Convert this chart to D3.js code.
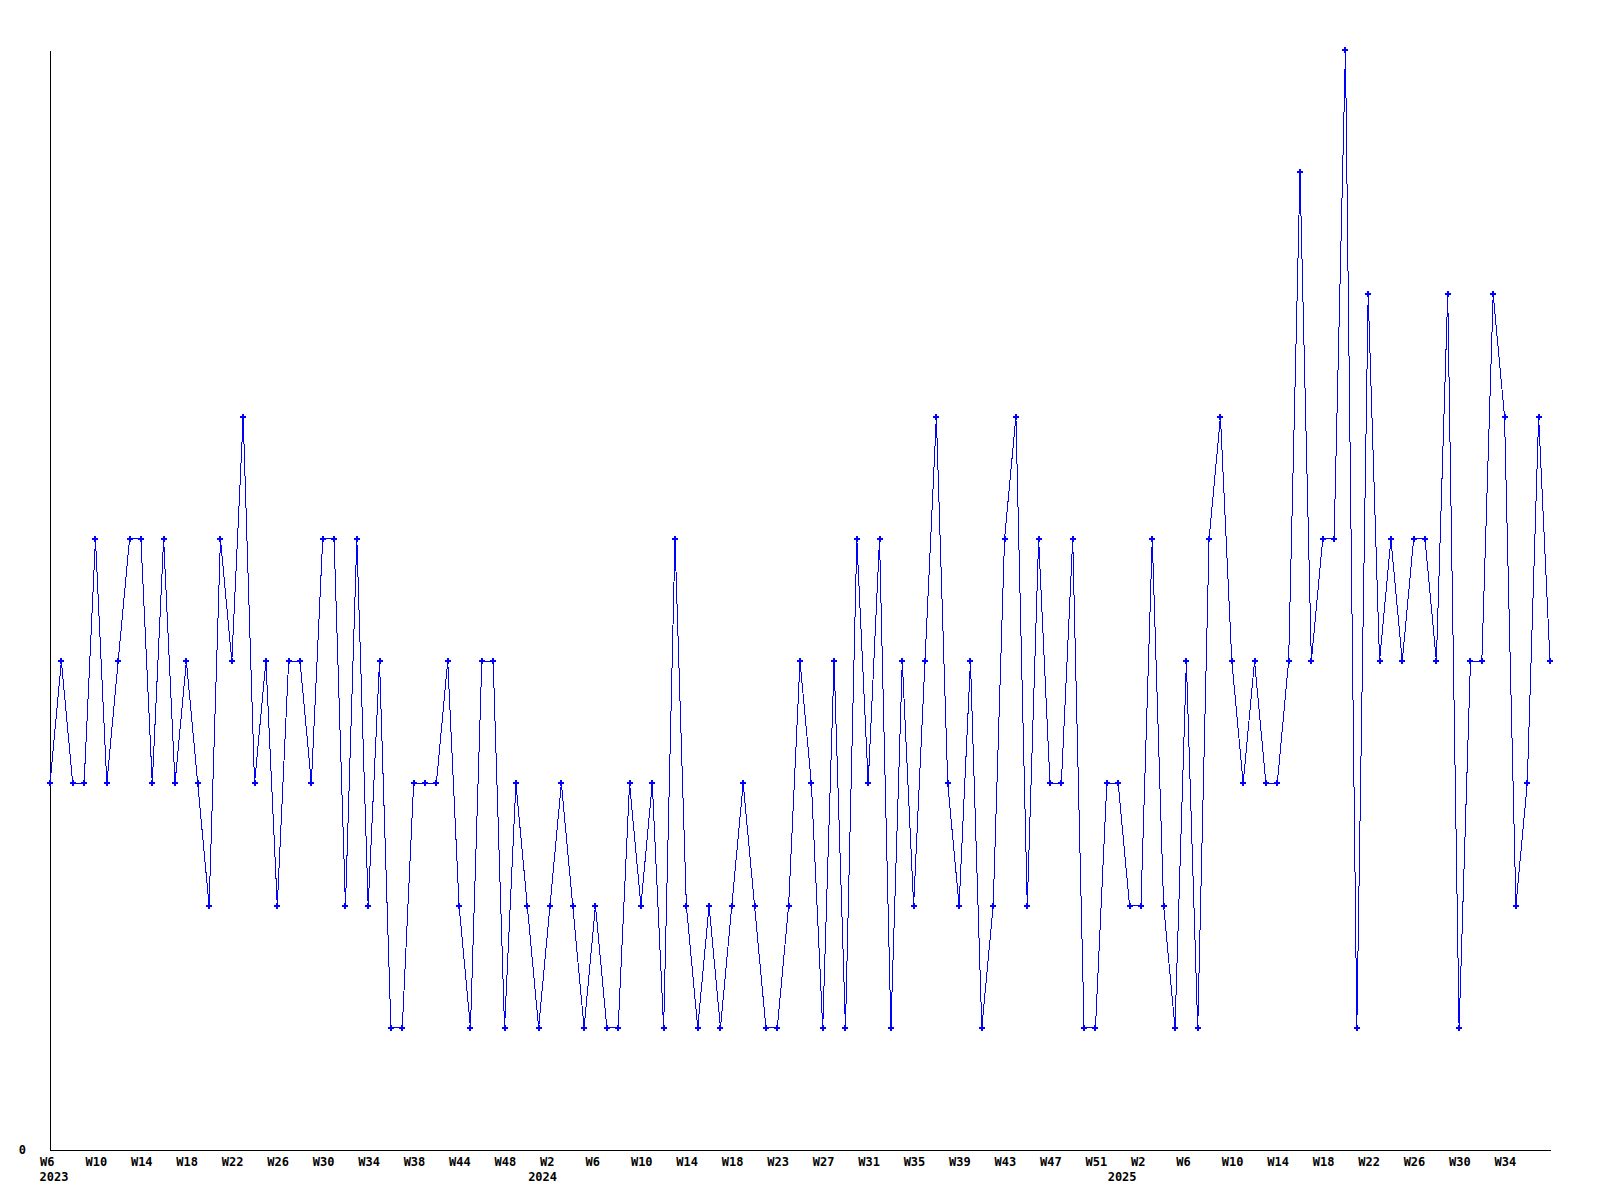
<!DOCTYPE html>
<html>
<head>
<meta charset="utf-8">
<script src="https://cdn.jsdelivr.net/npm/d3@7"></script>
<style>
  body { margin: 0; background: #fff; }
  .lbl { font-family: "DejaVu Sans Mono", monospace; font-weight: bold; font-size: 12px; fill: #000; }
</style>
</head>
<body>
<div id="chart"></div>
<script>
// week numbers per year, in the order of the data points
var weeks2023 = [6, 7, 8, 9, 10, 11, 12, 13, 14, 15, 16, 17, 18, 19, 20, 21, 22, 23, 24, 25,
  26, 27, 28, 29, 30, 31, 32, 33, 34, 35, 36, 37, 38, 40, 41, 43, 44, 45, 46, 47, 48, 50, 52];
var weeks2024 = [1, 2, 3, 4, 5, 6, 7, 8, 9, 10, 11, 12, 13, 14, 15, 16, 17, 18, 19, 20,
  22, 23, 24, 25, 26, 27, 28, 29, 30, 31, 32, 33, 34, 35, 36, 37, 38, 39, 40, 41,
  42, 43, 44, 45, 46, 47, 48, 49, 50, 51, 52];
var weeks2025 = [0, 1, 2, 3, 4, 5, 6, 7, 8, 9, 10, 11, 12, 13, 14, 15, 16, 17, 18, 19,
  20, 21, 22, 23, 24, 25, 26, 27, 28, 29, 30, 31, 32, 33, 34, 35, 36, 37, 38];

var values = [3, 4, 3, 3, 5, 3, 4, 5, 5, 3, 5, 3, 4, 3, 2, 5, 4, 6, 3, 4,
  2, 4, 4, 3, 5, 5, 2, 5, 2, 4, 1, 1, 3, 3, 3, 4, 2, 1, 4, 4,
  1, 3, 2, 1, 2, 3, 2, 1, 2, 1, 1, 3, 2, 3, 1, 5, 2, 1, 2, 1,
  2, 3, 2, 1, 1, 2, 4, 3, 1, 4, 1, 5, 3, 5, 1, 4, 2, 4, 6, 3,
  2, 4, 1, 2, 5, 6, 2, 5, 3, 3, 5, 1, 1, 3, 3, 2, 2, 5, 2, 1,
  4, 1, 5, 6, 4, 3, 4, 3, 3, 4, 8, 4, 5, 5, 9, 1, 7, 4, 5, 4,
  5, 5, 4, 7, 1, 4, 4, 7, 6, 2, 3, 6, 4];

var yTicks = [0];

var weeks = [];
weeks2023.forEach(function(w) { weeks.push({year: 2023, week: w}); });
weeks2024.forEach(function(w) { weeks.push({year: 2024, week: w}); });
weeks2025.forEach(function(w) { weeks.push({year: 2025, week: w}); });

var width = 1600, height = 1200;

var svg = d3.select("#chart")
  .append("svg")
  .attr("width", width)
  .attr("height", height);

var x = d3.scaleLinear().domain([0, weeks.length - 1]).range([50, 1550]);
var y = d3.scaleLinear().domain([0, 9]).range([1150, 50]);

// x axis, a label every 4th point (none too close to the right end)
var xAxis = svg.append("g")
  .attr("transform", "translate(0,1150)")
  .call(d3.axisBottom(x)
    .tickValues(d3.range(0, weeks.length - 4, 4))
    .tickSize(0)
    .tickSizeOuter(0)
    .tickPadding(0)
    .tickFormat(function(i) { return "W" + weeks[i].week; }));
xAxis.select(".domain").attr("stroke", "#000").attr("shape-rendering", "crispEdges");
xAxis.selectAll("text")
  .attr("class", "lbl")
  .attr("text-anchor", "start")
  .attr("x", -10.5)
  .attr("y", 16)
  .attr("dy", null);

// year under the first point of each year
var firstOfYear = weeks.map(function(d, i) { return i; })
  .filter(function(i) { return i === 0 || weeks[i].year !== weeks[i - 1].year; });
svg.selectAll(".year")
  .data(firstOfYear)
  .enter()
  .append("text")
    .attr("class", "lbl year")
    .attr("x", function(i) { return x(i) - 10.5; })
    .attr("y", 1181)
    .text(function(i) { return weeks[i].year; });

// y axis
var yAxis = svg.append("g")
  .attr("transform", "translate(50,0)")
  .call(d3.axisLeft(y)
    .tickValues(yTicks)
    .tickSize(0)
    .tickSizeOuter(0)
    .tickPadding(24));
yAxis.select(".domain").attr("stroke", "#000").attr("shape-rendering", "crispEdges");
yAxis.selectAll("text")
  .attr("class", "lbl")
  .attr("dy", null)
  .attr("y", 3);

var line = d3.line()
  .x(function(d, i) { return x(i); })
  .y(function(d) { return y(d); });

svg.append("path")
  .datum(values)
  .attr("d", line)
  .attr("fill", "none")
  .attr("stroke", "#0000ff")
  .attr("stroke-width", 1)
  .attr("shape-rendering", "crispEdges");

// small plus markers
var marker = svg.selectAll(".pt")
  .data(values)
  .enter()
  .append("g")
    .attr("class", "pt")
    .attr("transform", function(d, i) { return "translate(" + Math.round(x(i)) + "," + Math.round(y(d)) + ")"; });
marker.append("rect").attr("x", -3).attr("y", -1).attr("width", 6).attr("height", 2).attr("fill", "#0000ff");
marker.append("rect").attr("x", -1).attr("y", -3).attr("width", 2).attr("height", 6).attr("fill", "#0000ff");
</script>
</body>
</html>
